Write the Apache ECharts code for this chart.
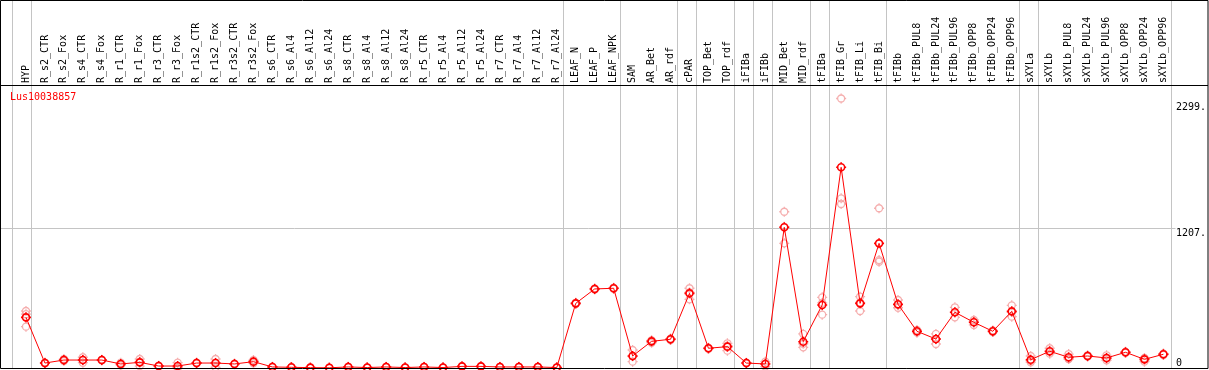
<!DOCTYPE html>
<html>
<head>
<meta charset="utf-8">
<title>Lus10038857</title>
<script src="https://cdn.jsdelivr.net/npm/echarts@6.0.0/dist/echarts.min.js"></script>
<style>
    html, body { margin: 0; padding: 0; background: #fff; }
    #expression-echarts { width: 1209px; height: 370px; }
</style>
</head>
<body>
<div id="expression-echarts"></div>
<script>
var categories = ['HYP','R_s2_CTR','R_s2_Fox','R_s4_CTR','R_s4_Fox','R_r1_CTR','R_r1_Fox','R_r3_CTR','R_r3_Fox',
    'R_r1s2_CTR','R_r1s2_Fox','R_r3s2_CTR','R_r3s2_Fox','R_s6_CTR','R_s6_Al4','R_s6_Al12','R_s6_Al24',
    'R_s8_CTR','R_s8_Al4','R_s8_Al12','R_s8_Al24','R_r5_CTR','R_r5_Al4','R_r5_Al12','R_r5_Al24',
    'R_r7_CTR','R_r7_Al4','R_r7_Al12','R_r7_Al24','LEAF_N','LEAF_P','LEAF_NPK','SAM','AR_Bet','AR_rdf',
    'cPAR','TOP_Bet','TOP_rdf','iFIBa','iFIBb','MID_Bet','MID_rdf','tFIBa','tFIB_Gr','tFIB_Li','tFIB_Bi',
    'tFIBb','tFIBb_PUL8','tFIBb_PUL24','tFIBb_PUL96','tFIBb_OPP8','tFIBb_OPP24','tFIBb_OPP96',
    'sXYLa','sXYLb','sXYLb_PUL8','sXYLb_PUL24','sXYLb_PUL96','sXYLb_OPP8','sXYLb_OPP24','sXYLb_OPP96'];

// mean expression per sample
var meanValues = [439,43,69,69,69,35,49,17,17,43,43,35,55,9,6,3,2,9,4,9,4,9,4,14,14,9,9,9,4,
    560,685,691,104,231,249,647,171,185,43,35,1219,228,546,1739,560,1080,
    552,318,251,483,396,318,491,72,145,93,104,87,136,75,119];

// single replicates
var rep1 = [494,47,78,93,72,46,78,20,46,47,78,38,69,11,8,5,4,11,6,11,6,11,6,16,16,11,11,11,6,
    565,690,695,156,240,255,691,175,214,46,55,1354,295,612,2335,618,1384,
    589,330,295,526,416,325,543,104,171,121,110,110,140,85,125];
var rep2 = [358,40,60,46,66,23,17,14,0,40,6,32,40,7,4,1,0,7,2,7,2,7,2,12,12,7,7,7,2,
    555,680,687,55,219,243,595,167,150,40,12,1080,179,462,1470,494,921,
    522,306,208,439,373,311,445,49,124,80,98,67,132,55,113];
var rep3 = [466,43,69,69,69,35,52,17,5,43,45,35,55,9,6,3,2,9,4,9,4,9,4,14,14,9,9,9,4,
    560,685,691,101,234,249,655,171,191,43,38,1223,210,564,1421,568,935,
    545,318,250,484,399,318,485,63,140,78,104,84,136,85,119];

var yTicks = [0, 1207, 2299];
// sample index after which a group separator is drawn (-1 = before the first one)
var groupEnds = [-1, 0, 28, 31, 34, 35, 37, 38, 39, 41, 42, 45, 52, 53, 60];

var MONO = 'DejaVu Sans Mono';
var RED = '#ff0000';
var PINK = '#f29a9a';
var GRID_GREY = '#c4c4c4';
var Y_MAX = 3180;
var MARKER = 'path://M-3.5,0A3.5,3.5,0,1,1,3.5,0A3.5,3.5,0,1,1,-3.5,0M0,-3.5L0,-5M0,3.5L0,5M-3.5,0L-5,0M3.5,0L5,0';

function repSeries(data){
    return {
        type: 'scatter',
        xAxisIndex: 0,
        yAxisIndex: 0,
        data: data,
        symbol: MARKER,
        symbolSize: 10,
        z: 3,
        silent: true,
        itemStyle: {
            color: 'rgba(0,0,0,0)',
            borderColor: PINK,
            borderWidth: 1.3
        }
    };
}

function expressionEcharts(){
    var chart = echarts.init(document.getElementById('expression-echarts'));

    var sepLines = groupEnds.map(function (i) {
        return { xAxis: i + 0.25 };
    });
    sepLines.push({ yAxis: yTicks[1] });

    var option = {
        animation: false,
        title: {
            text: 'Lus10038857',
            left: 10,
            top: 92,
            padding: 0,
            textStyle: { fontFamily: MONO, fontSize: 10, fontWeight: 'normal', color: RED }
        },
        grid: [
            { left: 16.5, right: 33.5, top: 1, bottom: 2 },
            // background grid, reaches the left frame
            { left: 1, right: 33.5, top: 1, bottom: 2 }
        ],
        xAxis: [
            {
                type: 'category',
                gridIndex: 0,
                data: categories,
                position: 'top',
                offset: -85,
                axisLine: { show: false },
                axisTick: { show: false },
                splitLine: { show: false },
                axisLabel: {
                    interval: 0,
                    rotate: 90,
                    margin: 3,
                    fontFamily: MONO,
                    fontSize: 10,
                    color: '#000'
                }
            },
            {
                type: 'value',
                gridIndex: 1,
                min: -25 / 19,
                max: 1149.5 / 19,
                show: false
            }
        ],
        yAxis: [
            {
                type: 'value',
                gridIndex: 0,
                position: 'right',
                min: 0,
                max: Y_MAX,
                axisLine: { show: false },
                axisTick: { show: false },
                splitLine: { show: false },
                axisLabel: {
                    customValues: yTicks.slice(1),
                    margin: 3,
                    verticalAlign: 'top',
                    fontFamily: MONO,
                    fontSize: 10,
                    color: '#000',
                    formatter: function (v) { return v + '.'; }
                }
            },
            {
                type: 'value',
                gridIndex: 0,
                position: 'right',
                min: 0,
                max: Y_MAX,
                axisLine: { show: false },
                axisTick: { show: false },
                splitLine: { show: false },
                axisLabel: {
                    customValues: yTicks.slice(0, 1),
                    margin: 3,
                    verticalAlign: 'bottom',
                    fontFamily: MONO,
                    fontSize: 10,
                    color: '#000'
                }
            },
            {
                type: 'value',
                gridIndex: 1,
                min: 0,
                max: Y_MAX,
                show: false
            }
        ],
        graphic: [
            {
                type: 'rect',
                silent: true,
                shape: { x: 0.5, y: 0.5, width: 1207.5, height: 368 },
                style: { fill: 'none', stroke: '#000', lineWidth: 1 },
                z: 10
            },
            {
                type: 'line',
                silent: true,
                shape: { x1: 0, y1: 85.5, x2: 1208, y2: 85.5 },
                style: { stroke: '#000', lineWidth: 1 },
                z: 10
            }
        ],
        series: [
            {
                name: 'grid',
                type: 'line',
                xAxisIndex: 1,
                yAxisIndex: 2,
                data: [],
                z: 1,
                silent: true,
                markLine: {
                    silent: true,
                    symbol: 'none',
                    label: { show: false },
                    lineStyle: { color: GRID_GREY, type: 'solid', width: 1 },
                    data: sepLines
                }
            },
            repSeries(rep1),
            repSeries(rep2),
            repSeries(rep3),
            {
                name: 'Lus10038857',
                type: 'line',
                xAxisIndex: 0,
                yAxisIndex: 0,
                data: meanValues,
                symbol: MARKER,
                symbolSize: 10,
                showAllSymbol: true,
                z: 5,
                silent: true,
                lineStyle: { color: RED, width: 1 },
                itemStyle: {
                    color: 'rgba(0,0,0,0)',
                    borderColor: RED,
                    borderWidth: 1.6
                }
            }
        ]
    };

    chart.setOption(option);
}

expressionEcharts();
</script>
</body>
</html>
